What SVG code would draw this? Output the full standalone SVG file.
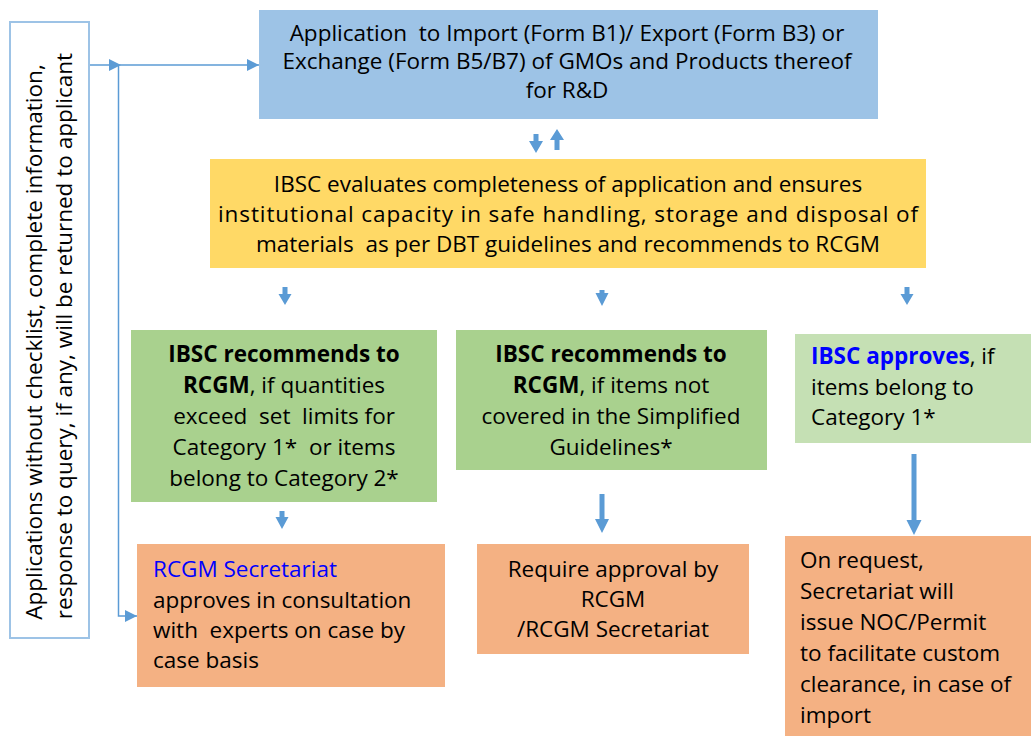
<svg xmlns="http://www.w3.org/2000/svg" width="1032" height="736" viewBox="0 0 1032 736">
<style>
.t{font-family:"Open Sans","Noto Sans","Liberation Sans",sans-serif;font-size:22.5px;fill:#000;white-space:pre}
.c{text-anchor:middle}
.b{font-weight:bold}
.bl{fill:#0000ff}
.con{fill:none;stroke:#5b9bd5;stroke-width:1.5}
.blk{fill:#5b9bd5}
</style>
<defs>
<marker id="ah" markerUnits="userSpaceOnUse" markerWidth="13" markerHeight="12" refX="12" refY="6" orient="auto">
<path d="M0,0 L12,6 L0,12 Z" fill="#5b9bd5"/>
</marker>
</defs>
<rect width="1032" height="736" fill="#fff"/>

<g id="connectors">
<path class="con" d="M89,65 H121" stroke="#9dc3e6" marker-end="url(#ah)"/>
<path class="con" d="M121,65 H259" marker-end="url(#ah)"/>
<path class="con" d="M118.5,65 V616 H137" marker-end="url(#ah)"/>
<polygon class="blk" points="533.5,134 538.5,134 538.5,141 543,141 536,153 529,141 533.5,141"/>
<polygon class="blk" points="554.5,150 559.5,150 559.5,140 564,140 557,129 550,140 554.5,140"/>
<polygon class="blk" points="282.5,287 287.5,287 287.5,294 291.5,294 285,305 278.5,294 282.5,294"/>
<polygon class="blk" points="599.5,290 604.5,290 604.5,293 608.5,293 602,306 595.5,293 599.5,293"/>
<polygon class="blk" points="904.5,287 909.5,287 909.5,294 913.5,294 907,305 900.5,294 904.5,294"/>
<polygon class="blk" points="279.5,511 284.5,511 284.5,517 288.5,517 282,529 275.5,517 279.5,517"/>
<polygon class="blk" points="599.5,494 604.5,494 604.5,519 609,519 602,533 595,519 599.5,519"/>
<polygon class="blk" points="911.5,454 916.5,454 916.5,520 921.5,520 914,535 906.5,520 911.5,520"/>
</g>

<g id="node-returned">
<rect x="10" y="22" width="79" height="616" fill="#fff" stroke="#9dc3e6" stroke-width="2"/>
<g transform="rotate(-90)">
<text class="t c" x="-342" y="42">Applications without checklist, complete information,</text>
<text class="t c" x="-336" y="72">response to query, if any, will be returned to applicant</text>
</g>
</g>

<g id="node-application">
<rect x="259" y="10" width="619" height="109" fill="#9dc3e6"/>
<text class="t c" x="567" y="41">Application  to Import (Form B1)/ Export (Form B3) or</text>
<text class="t c" x="567" y="69">Exchange (Form B5/B7) of GMOs and Products thereof</text>
<text class="t c" x="567" y="98">for R&amp;D</text>
</g>

<g id="node-ibsc-evaluates">
<rect x="210" y="159" width="716" height="109" fill="#ffd966"/>
<text class="t c" x="568" y="192">IBSC evaluates completeness of application and ensures</text>
<text class="t c" x="568" y="222" textLength="700" lengthAdjust="spacing">institutional capacity in safe handling, storage and disposal of</text>
<text class="t c" x="568" y="252">materials  as per DBT guidelines and recommends to RCGM</text>
</g>

<g id="node-recommends-quantities">
<rect x="131" y="330" width="306" height="172" fill="#a9d18e"/>
<text class="t c b" x="284" y="362">IBSC recommends to</text>
<text class="t c" x="284" y="393"><tspan class="b">RCGM</tspan>, if quantities</text>
<text class="t c" x="284" y="424">exceed  set  limits for</text>
<text class="t c" x="284" y="455">Category 1*  or items</text>
<text class="t c" x="284" y="486">belong to Category 2*</text>
</g>

<g id="node-recommends-not-covered">
<rect x="456" y="330" width="311" height="140" fill="#a9d18e"/>
<text class="t c b" x="611" y="362">IBSC recommends to</text>
<text class="t c" x="611" y="393"><tspan class="b">RCGM</tspan>, if items not</text>
<text class="t c" x="611" y="424">covered in the Simplified</text>
<text class="t c" x="611" y="455">Guidelines*</text>
</g>

<g id="node-ibsc-approves">
<rect x="795" y="334" width="236" height="109" fill="#c5e0b4"/>
<text class="t" x="811" y="364"><tspan class="b bl">IBSC approves</tspan>, if</text>
<text class="t" x="811" y="395">items belong to</text>
<text class="t" x="811" y="425">Category 1*</text>
</g>

<g id="node-rcgm-secretariat">
<rect x="137" y="544" width="308" height="143" fill="#f4b183"/>
<text class="t bl" x="153" y="577">RCGM Secretariat</text>
<text class="t" x="153" y="608">approves in consultation</text>
<text class="t" x="153" y="638">with  experts on case by</text>
<text class="t" x="153" y="668">case basis</text>
</g>

<g id="node-require-approval">
<rect x="477" y="544" width="272" height="110" fill="#f4b183"/>
<text class="t c" x="613" y="577">Require approval by</text>
<text class="t c" x="613" y="607">RCGM</text>
<text class="t c" x="613" y="637">/RCGM Secretariat</text>
</g>

<g id="node-noc-permit">
<rect x="785" y="536" width="246" height="200" fill="#f4b183"/>
<text class="t" x="800" y="568">On request,</text>
<text class="t" x="800" y="599">Secretariat will</text>
<text class="t" x="800" y="630">issue NOC/Permit</text>
<text class="t" x="800" y="661">to facilitate custom</text>
<text class="t" x="800" y="692">clearance, in case of</text>
<text class="t" x="800" y="723">import</text>
</g>
</svg>
